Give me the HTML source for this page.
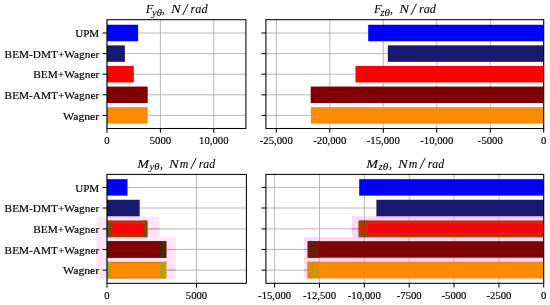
<!DOCTYPE html>
<html lang="en"><head><meta charset="utf-8"><title>Figure</title>
<style>
html,body{margin:0;padding:0;background:#fff;}
body{width:550px;height:305px;overflow:hidden;}
svg text{font-family:"Liberation Serif", "DejaVu Serif", serif;fill:#000;stroke:#000;stroke-width:0.18px;}
svg text.ti{stroke-width:0.08px;}
</style></head><body>
<svg width="550" height="305" viewBox="0 0 550 305" style="display:block">
<rect width="550" height="305" fill="#fff"/>
<line x1="107.00" x2="107.00" y1="19.7" y2="128.5" stroke="#b0b0b0" stroke-width="0.9"/>
<line x1="160.40" x2="160.40" y1="19.7" y2="128.5" stroke="#b0b0b0" stroke-width="0.9"/>
<line x1="213.80" x2="213.80" y1="19.7" y2="128.5" stroke="#b0b0b0" stroke-width="0.9"/>
<line x1="107.0" x2="245.9" y1="33.00" y2="33.00" stroke="#b0b0b0" stroke-width="0.9"/>
<line x1="107.0" x2="245.9" y1="53.60" y2="53.60" stroke="#b0b0b0" stroke-width="0.9"/>
<line x1="107.0" x2="245.9" y1="74.20" y2="74.20" stroke="#b0b0b0" stroke-width="0.9"/>
<line x1="107.0" x2="245.9" y1="94.80" y2="94.80" stroke="#b0b0b0" stroke-width="0.9"/>
<line x1="107.0" x2="245.9" y1="115.40" y2="115.40" stroke="#b0b0b0" stroke-width="0.9"/>
<rect x="107.00" y="24.76" width="31.10" height="16.48" fill="#0000ff" />
<rect x="107.00" y="45.36" width="17.90" height="16.48" fill="#191970" />
<rect x="107.00" y="65.96" width="26.80" height="16.48" fill="#ff0000" />
<rect x="107.00" y="86.56" width="40.70" height="16.48" fill="#800000" />
<rect x="107.00" y="107.16" width="40.70" height="16.48" fill="#ff8c00" />
<rect x="107.0" y="19.7" width="138.90" height="108.80" fill="none" stroke="#000" stroke-width="1.05"/>
<line x1="107.00" x2="107.00" y1="128.5" y2="132.80" stroke="#000" stroke-width="1.05"/>
<text x="104.33" y="143.80" font-size="11.4" textLength="5.35" lengthAdjust="spacingAndGlyphs">0</text>
<line x1="160.40" x2="160.40" y1="128.5" y2="132.80" stroke="#000" stroke-width="1.05"/>
<text x="149.70" y="143.80" font-size="11.4" textLength="21.40" lengthAdjust="spacingAndGlyphs">5000</text>
<line x1="213.80" x2="213.80" y1="128.5" y2="132.80" stroke="#000" stroke-width="1.05"/>
<text x="199.09" y="143.80" font-size="11.4" textLength="29.42" lengthAdjust="spacingAndGlyphs">10,000</text>
<line x1="102.60" x2="107.0" y1="33.00" y2="33.00" stroke="#000" stroke-width="1.05"/>
<text x="75.20" y="37.10" font-size="11.2" textLength="24.0" lengthAdjust="spacingAndGlyphs">UPM</text>
<line x1="102.60" x2="107.0" y1="53.60" y2="53.60" stroke="#000" stroke-width="1.05"/>
<text x="4.60" y="57.70" font-size="11.2" textLength="94.6" lengthAdjust="spacingAndGlyphs">BEM-DMT+Wagner</text>
<line x1="102.60" x2="107.0" y1="74.20" y2="74.20" stroke="#000" stroke-width="1.05"/>
<text x="33.30" y="78.30" font-size="11.2" textLength="65.9" lengthAdjust="spacingAndGlyphs">BEM+Wagner</text>
<line x1="102.60" x2="107.0" y1="94.80" y2="94.80" stroke="#000" stroke-width="1.05"/>
<text x="4.60" y="98.90" font-size="11.2" textLength="94.6" lengthAdjust="spacingAndGlyphs">BEM-AMT+Wagner</text>
<line x1="102.60" x2="107.0" y1="115.40" y2="115.40" stroke="#000" stroke-width="1.05"/>
<text x="63.10" y="119.50" font-size="11.2" textLength="36.1" lengthAdjust="spacingAndGlyphs">Wagner</text>
<line x1="276.30" x2="276.30" y1="19.7" y2="128.5" stroke="#b0b0b0" stroke-width="0.9"/>
<line x1="329.80" x2="329.80" y1="19.7" y2="128.5" stroke="#b0b0b0" stroke-width="0.9"/>
<line x1="383.30" x2="383.30" y1="19.7" y2="128.5" stroke="#b0b0b0" stroke-width="0.9"/>
<line x1="436.80" x2="436.80" y1="19.7" y2="128.5" stroke="#b0b0b0" stroke-width="0.9"/>
<line x1="490.30" x2="490.30" y1="19.7" y2="128.5" stroke="#b0b0b0" stroke-width="0.9"/>
<line x1="543.70" x2="543.70" y1="19.7" y2="128.5" stroke="#b0b0b0" stroke-width="0.9"/>
<line x1="265.9" x2="543.7" y1="33.00" y2="33.00" stroke="#b0b0b0" stroke-width="0.9"/>
<line x1="265.9" x2="543.7" y1="53.60" y2="53.60" stroke="#b0b0b0" stroke-width="0.9"/>
<line x1="265.9" x2="543.7" y1="74.20" y2="74.20" stroke="#b0b0b0" stroke-width="0.9"/>
<line x1="265.9" x2="543.7" y1="94.80" y2="94.80" stroke="#b0b0b0" stroke-width="0.9"/>
<line x1="265.9" x2="543.7" y1="115.40" y2="115.40" stroke="#b0b0b0" stroke-width="0.9"/>
<rect x="368.20" y="24.76" width="175.50" height="16.48" fill="#0000ff" />
<rect x="387.80" y="45.36" width="155.90" height="16.48" fill="#191970" />
<rect x="355.50" y="65.96" width="188.20" height="16.48" fill="#ff0000" />
<rect x="310.70" y="86.56" width="233.00" height="16.48" fill="#800000" />
<rect x="310.90" y="107.16" width="232.80" height="16.48" fill="#ff8c00" />
<rect x="265.9" y="19.7" width="277.80" height="108.80" fill="none" stroke="#000" stroke-width="1.05"/>
<line x1="276.30" x2="276.30" y1="128.5" y2="132.80" stroke="#000" stroke-width="1.05"/>
<text x="259.81" y="143.80" font-size="11.4" textLength="32.99" lengthAdjust="spacingAndGlyphs">-25,000</text>
<line x1="329.80" x2="329.80" y1="128.5" y2="132.80" stroke="#000" stroke-width="1.05"/>
<text x="313.31" y="143.80" font-size="11.4" textLength="32.99" lengthAdjust="spacingAndGlyphs">-20,000</text>
<line x1="383.30" x2="383.30" y1="128.5" y2="132.80" stroke="#000" stroke-width="1.05"/>
<text x="366.81" y="143.80" font-size="11.4" textLength="32.99" lengthAdjust="spacingAndGlyphs">-15,000</text>
<line x1="436.80" x2="436.80" y1="128.5" y2="132.80" stroke="#000" stroke-width="1.05"/>
<text x="420.31" y="143.80" font-size="11.4" textLength="32.99" lengthAdjust="spacingAndGlyphs">-10,000</text>
<line x1="490.30" x2="490.30" y1="128.5" y2="132.80" stroke="#000" stroke-width="1.05"/>
<text x="477.82" y="143.80" font-size="11.4" textLength="24.96" lengthAdjust="spacingAndGlyphs">-5000</text>
<line x1="543.70" x2="543.70" y1="128.5" y2="132.80" stroke="#000" stroke-width="1.05"/>
<text x="541.03" y="143.80" font-size="11.4" textLength="5.35" lengthAdjust="spacingAndGlyphs">0</text>
<line x1="261.50" x2="265.9" y1="33.00" y2="33.00" stroke="#000" stroke-width="1.05"/>
<line x1="261.50" x2="265.9" y1="53.60" y2="53.60" stroke="#000" stroke-width="1.05"/>
<line x1="261.50" x2="265.9" y1="74.20" y2="74.20" stroke="#000" stroke-width="1.05"/>
<line x1="261.50" x2="265.9" y1="94.80" y2="94.80" stroke="#000" stroke-width="1.05"/>
<line x1="261.50" x2="265.9" y1="115.40" y2="115.40" stroke="#000" stroke-width="1.05"/>
<rect x="96.50" y="216.46" width="63.10" height="24.88" fill="#ffe4f8" />
<rect x="96.50" y="237.01" width="79.20" height="24.88" fill="#ffe4f8" />
<rect x="96.50" y="257.66" width="79.20" height="21.88" fill="#ffe4f8" />
<rect x="107.00" y="216.24" width="32.70" height="2.00" fill="#ffc8ef" />
<line x1="107.00" x2="107.00" y1="174.4" y2="283.3" stroke="#b0b0b0" stroke-width="0.9"/>
<line x1="196.50" x2="196.50" y1="174.4" y2="283.3" stroke="#b0b0b0" stroke-width="0.9"/>
<line x1="107.0" x2="246.4" y1="187.40" y2="187.40" stroke="#b0b0b0" stroke-width="0.9"/>
<line x1="107.0" x2="246.4" y1="208.00" y2="208.00" stroke="#b0b0b0" stroke-width="0.9"/>
<line x1="107.0" x2="246.4" y1="228.90" y2="228.90" stroke="#b0b0b0" stroke-width="0.9"/>
<line x1="107.0" x2="246.4" y1="249.45" y2="249.45" stroke="#b0b0b0" stroke-width="0.9"/>
<line x1="107.0" x2="246.4" y1="270.10" y2="270.10" stroke="#b0b0b0" stroke-width="0.9"/>
<line x1="147.3" x2="159.6" y1="228.90" y2="228.90" stroke="#e88aa8" stroke-width="0.9"/>
<line x1="166.3" x2="175.70000000000002" y1="249.45" y2="249.45" stroke="#e88aa8" stroke-width="0.9"/>
<line x1="166.3" x2="175.70000000000002" y1="270.10" y2="270.10" stroke="#e88aa8" stroke-width="0.9"/>
<rect x="107.00" y="179.16" width="20.50" height="16.48" fill="#0000ff" />
<rect x="107.00" y="199.76" width="32.70" height="16.48" fill="#191970" />
<rect x="107.00" y="220.66" width="40.30" height="16.48" fill="#ff0000" />
<rect x="107.00" y="241.21" width="59.30" height="16.48" fill="#800000" />
<rect x="107.00" y="261.86" width="59.30" height="16.48" fill="#ff8c00" />
<rect x="107.00" y="220.66" width="40.30" height="16.48" fill="#bc3010" />
<rect x="112.20" y="223.86" width="32.00" height="9.88" fill="#ff0000" />
<rect x="107.00" y="220.66" width="5.20" height="16.48" fill="#7a4a10" />
<rect x="144.20" y="220.66" width="3.10" height="16.48" fill="#7a4a10" />
<rect x="107.00" y="241.21" width="59.30" height="1.00" fill="#6a0800" />
<rect x="107.00" y="256.69" width="59.30" height="1.00" fill="#6a0800" />
<rect x="159.90" y="241.21" width="6.40" height="16.48" fill="#4c2808" />
<rect x="107.00" y="241.21" width="2.20" height="16.48" fill="#4c2008" />
<rect x="107.00" y="261.86" width="59.30" height="1.80" fill="#e48200" />
<rect x="107.00" y="276.54" width="59.30" height="1.80" fill="#e48200" />
<rect x="159.90" y="261.86" width="6.40" height="16.48" fill="#b4a010" />
<rect x="107.00" y="261.86" width="4.80" height="16.48" fill="#b4a010" />
<rect x="107.0" y="174.4" width="139.40" height="108.90" fill="none" stroke="#000" stroke-width="1.05"/>
<line x1="107.00" x2="107.00" y1="283.3" y2="287.60" stroke="#000" stroke-width="1.05"/>
<text x="104.33" y="298.60" font-size="11.4" textLength="5.35" lengthAdjust="spacingAndGlyphs">0</text>
<line x1="196.50" x2="196.50" y1="283.3" y2="287.60" stroke="#000" stroke-width="1.05"/>
<text x="185.80" y="298.60" font-size="11.4" textLength="21.40" lengthAdjust="spacingAndGlyphs">5000</text>
<line x1="102.60" x2="107.0" y1="187.40" y2="187.40" stroke="#000" stroke-width="1.05"/>
<text x="75.20" y="191.50" font-size="11.2" textLength="24.0" lengthAdjust="spacingAndGlyphs">UPM</text>
<line x1="102.60" x2="107.0" y1="208.00" y2="208.00" stroke="#000" stroke-width="1.05"/>
<text x="4.60" y="212.10" font-size="11.2" textLength="94.6" lengthAdjust="spacingAndGlyphs">BEM-DMT+Wagner</text>
<line x1="102.60" x2="107.0" y1="228.90" y2="228.90" stroke="#000" stroke-width="1.05"/>
<text x="33.30" y="233.00" font-size="11.2" textLength="65.9" lengthAdjust="spacingAndGlyphs">BEM+Wagner</text>
<line x1="102.60" x2="107.0" y1="249.45" y2="249.45" stroke="#000" stroke-width="1.05"/>
<text x="4.60" y="253.55" font-size="11.2" textLength="94.6" lengthAdjust="spacingAndGlyphs">BEM-AMT+Wagner</text>
<line x1="102.60" x2="107.0" y1="270.10" y2="270.10" stroke="#000" stroke-width="1.05"/>
<text x="63.10" y="274.20" font-size="11.2" textLength="36.1" lengthAdjust="spacingAndGlyphs">Wagner</text>
<rect x="352.00" y="216.26" width="191.70" height="25.08" fill="#ffdaf7" />
<rect x="304.00" y="239.41" width="239.70" height="22.48" fill="#ffe4f8" />
<rect x="304.00" y="260.06" width="239.70" height="19.28" fill="#ffe4f8" />
<rect x="304.00" y="237.01" width="239.70" height="4.20" fill="#ffd6f6" />
<rect x="304.00" y="257.69" width="239.70" height="4.17" fill="#ffd6f6" />
<rect x="376.40" y="216.24" width="167.30" height="2.20" fill="#ffbcf0" />
<line x1="274.60" x2="274.60" y1="174.4" y2="283.3" stroke="#b0b0b0" stroke-width="0.9"/>
<line x1="319.50" x2="319.50" y1="174.4" y2="283.3" stroke="#b0b0b0" stroke-width="0.9"/>
<line x1="364.30" x2="364.30" y1="174.4" y2="283.3" stroke="#b0b0b0" stroke-width="0.9"/>
<line x1="409.20" x2="409.20" y1="174.4" y2="283.3" stroke="#b0b0b0" stroke-width="0.9"/>
<line x1="454.00" x2="454.00" y1="174.4" y2="283.3" stroke="#b0b0b0" stroke-width="0.9"/>
<line x1="498.90" x2="498.90" y1="174.4" y2="283.3" stroke="#b0b0b0" stroke-width="0.9"/>
<line x1="543.70" x2="543.70" y1="174.4" y2="283.3" stroke="#b0b0b0" stroke-width="0.9"/>
<line x1="265.9" x2="543.7" y1="187.40" y2="187.40" stroke="#b0b0b0" stroke-width="0.9"/>
<line x1="265.9" x2="543.7" y1="208.00" y2="208.00" stroke="#b0b0b0" stroke-width="0.9"/>
<line x1="265.9" x2="543.7" y1="228.90" y2="228.90" stroke="#b0b0b0" stroke-width="0.9"/>
<line x1="265.9" x2="543.7" y1="249.45" y2="249.45" stroke="#b0b0b0" stroke-width="0.9"/>
<line x1="265.9" x2="543.7" y1="270.10" y2="270.10" stroke="#b0b0b0" stroke-width="0.9"/>
<line x1="352.0" x2="358.8" y1="228.90" y2="228.90" stroke="#f070b0" stroke-width="1"/>
<line x1="304.0" x2="307.7" y1="249.45" y2="249.45" stroke="#f070b0" stroke-width="1"/>
<line x1="304.0" x2="307.5" y1="270.10" y2="270.10" stroke="#f070b0" stroke-width="1"/>
<rect x="359.20" y="179.16" width="184.50" height="16.48" fill="#0000ff" />
<rect x="376.40" y="199.76" width="167.30" height="16.48" fill="#191970" />
<rect x="358.80" y="220.66" width="184.90" height="16.48" fill="#ff0000" />
<rect x="307.70" y="241.21" width="236.00" height="16.48" fill="#800000" />
<rect x="307.50" y="261.86" width="236.20" height="16.48" fill="#ff8c00" />
<rect x="358.80" y="220.66" width="184.90" height="16.48" fill="#bc3010" />
<rect x="358.80" y="220.66" width="9.00" height="16.48" fill="#80500f" />
<rect x="358.80" y="223.96" width="9.00" height="8.78" fill="#cc3000" />
<rect x="367.80" y="223.96" width="175.90" height="8.78" fill="#ff0000" />
<line x1="364.3" x2="364.3" y1="220.66" y2="237.14" stroke="#000" stroke-opacity="0.15" stroke-width="0.9"/>
<rect x="307.70" y="241.21" width="11.80" height="16.48" fill="#6a1a08" />
<line x1="364.3" x2="364.3" y1="241.21" y2="257.69" stroke="#000" stroke-opacity="0.07" stroke-width="0.9"/>
<rect x="307.50" y="261.86" width="236.20" height="1.50" fill="#ee8600" />
<rect x="307.50" y="261.86" width="12.00" height="16.48" fill="#d89000" />
<rect x="265.9" y="174.4" width="277.80" height="108.90" fill="none" stroke="#000" stroke-width="1.05"/>
<line x1="274.60" x2="274.60" y1="283.3" y2="287.60" stroke="#000" stroke-width="1.05"/>
<text x="258.11" y="298.60" font-size="11.4" textLength="32.99" lengthAdjust="spacingAndGlyphs">-15,000</text>
<line x1="319.50" x2="319.50" y1="283.3" y2="287.60" stroke="#000" stroke-width="1.05"/>
<text x="303.01" y="298.60" font-size="11.4" textLength="32.99" lengthAdjust="spacingAndGlyphs">-12,500</text>
<line x1="364.30" x2="364.30" y1="283.3" y2="287.60" stroke="#000" stroke-width="1.05"/>
<text x="347.81" y="298.60" font-size="11.4" textLength="32.99" lengthAdjust="spacingAndGlyphs">-10,000</text>
<line x1="409.20" x2="409.20" y1="283.3" y2="287.60" stroke="#000" stroke-width="1.05"/>
<text x="396.72" y="298.60" font-size="11.4" textLength="24.96" lengthAdjust="spacingAndGlyphs">-7500</text>
<line x1="454.00" x2="454.00" y1="283.3" y2="287.60" stroke="#000" stroke-width="1.05"/>
<text x="441.52" y="298.60" font-size="11.4" textLength="24.96" lengthAdjust="spacingAndGlyphs">-5000</text>
<line x1="498.90" x2="498.90" y1="283.3" y2="287.60" stroke="#000" stroke-width="1.05"/>
<text x="486.42" y="298.60" font-size="11.4" textLength="24.96" lengthAdjust="spacingAndGlyphs">-2500</text>
<line x1="543.70" x2="543.70" y1="283.3" y2="287.60" stroke="#000" stroke-width="1.05"/>
<text x="541.03" y="298.60" font-size="11.4" textLength="5.35" lengthAdjust="spacingAndGlyphs">0</text>
<line x1="261.50" x2="265.9" y1="187.40" y2="187.40" stroke="#000" stroke-width="1.05"/>
<line x1="261.50" x2="265.9" y1="208.00" y2="208.00" stroke="#000" stroke-width="1.05"/>
<line x1="261.50" x2="265.9" y1="228.90" y2="228.90" stroke="#000" stroke-width="1.05"/>
<line x1="261.50" x2="265.9" y1="249.45" y2="249.45" stroke="#000" stroke-width="1.05"/>
<line x1="261.50" x2="265.9" y1="270.10" y2="270.10" stroke="#000" stroke-width="1.05"/>
<text class="ti" x="145.70" y="13.40" font-size="13.0" font-style="italic" textLength="7.60" lengthAdjust="spacingAndGlyphs">F</text>
<text class="ti" x="152.00" y="15.50" font-size="10.8" font-style="italic" textLength="9.80" lengthAdjust="spacingAndGlyphs">yθ</text>
<text class="ti" x="161.70" y="13.40" font-size="13.0" font-style="italic" textLength="3.00" lengthAdjust="spacingAndGlyphs">,</text>
<text class="ti" x="171.00" y="13.40" font-size="13.0" font-style="italic" textLength="9.80" lengthAdjust="spacingAndGlyphs">N</text>
<text class="ti" x="182.90" y="14.70" font-size="16.0" font-style="italic" textLength="4.40" lengthAdjust="spacingAndGlyphs">/</text>
<text class="ti" x="190.60" y="13.40" font-size="13.0" font-style="italic" textLength="17.00" lengthAdjust="spacingAndGlyphs">rad</text>
<text class="ti" x="374.00" y="13.40" font-size="13.0" font-style="italic" textLength="7.60" lengthAdjust="spacingAndGlyphs">F</text>
<text class="ti" x="380.30" y="15.50" font-size="10.8" font-style="italic" textLength="9.80" lengthAdjust="spacingAndGlyphs">zθ</text>
<text class="ti" x="390.00" y="13.40" font-size="13.0" font-style="italic" textLength="3.00" lengthAdjust="spacingAndGlyphs">,</text>
<text class="ti" x="399.30" y="13.40" font-size="13.0" font-style="italic" textLength="9.80" lengthAdjust="spacingAndGlyphs">N</text>
<text class="ti" x="411.20" y="14.70" font-size="16.0" font-style="italic" textLength="4.40" lengthAdjust="spacingAndGlyphs">/</text>
<text class="ti" x="418.90" y="13.40" font-size="13.0" font-style="italic" textLength="17.00" lengthAdjust="spacingAndGlyphs">rad</text>
<text class="ti" x="137.20" y="167.90" font-size="13.0" font-style="italic" textLength="11.80" lengthAdjust="spacingAndGlyphs">M</text>
<text class="ti" x="149.40" y="169.60" font-size="10.8" font-style="italic" textLength="10.00" lengthAdjust="spacingAndGlyphs">yθ</text>
<text class="ti" x="160.00" y="167.90" font-size="13.0" font-style="italic" textLength="3.00" lengthAdjust="spacingAndGlyphs">,</text>
<text class="ti" x="169.00" y="167.90" font-size="13.0" font-style="italic" textLength="9.80" lengthAdjust="spacingAndGlyphs">N</text>
<text class="ti" x="179.80" y="167.90" font-size="13.0" font-style="italic" textLength="8.60" lengthAdjust="spacingAndGlyphs">m</text>
<text class="ti" x="190.90" y="169.20" font-size="16.0" font-style="italic" textLength="4.40" lengthAdjust="spacingAndGlyphs">/</text>
<text class="ti" x="198.70" y="167.90" font-size="13.0" font-style="italic" textLength="16.50" lengthAdjust="spacingAndGlyphs">rad</text>
<text class="ti" x="366.20" y="167.90" font-size="13.0" font-style="italic" textLength="11.80" lengthAdjust="spacingAndGlyphs">M</text>
<text class="ti" x="378.40" y="169.60" font-size="10.8" font-style="italic" textLength="10.00" lengthAdjust="spacingAndGlyphs">zθ</text>
<text class="ti" x="389.00" y="167.90" font-size="13.0" font-style="italic" textLength="3.00" lengthAdjust="spacingAndGlyphs">,</text>
<text class="ti" x="398.00" y="167.90" font-size="13.0" font-style="italic" textLength="9.80" lengthAdjust="spacingAndGlyphs">N</text>
<text class="ti" x="408.80" y="167.90" font-size="13.0" font-style="italic" textLength="8.60" lengthAdjust="spacingAndGlyphs">m</text>
<text class="ti" x="419.90" y="169.20" font-size="16.0" font-style="italic" textLength="4.40" lengthAdjust="spacingAndGlyphs">/</text>
<text class="ti" x="427.70" y="167.90" font-size="13.0" font-style="italic" textLength="16.50" lengthAdjust="spacingAndGlyphs">rad</text>
</svg>
</body></html>
